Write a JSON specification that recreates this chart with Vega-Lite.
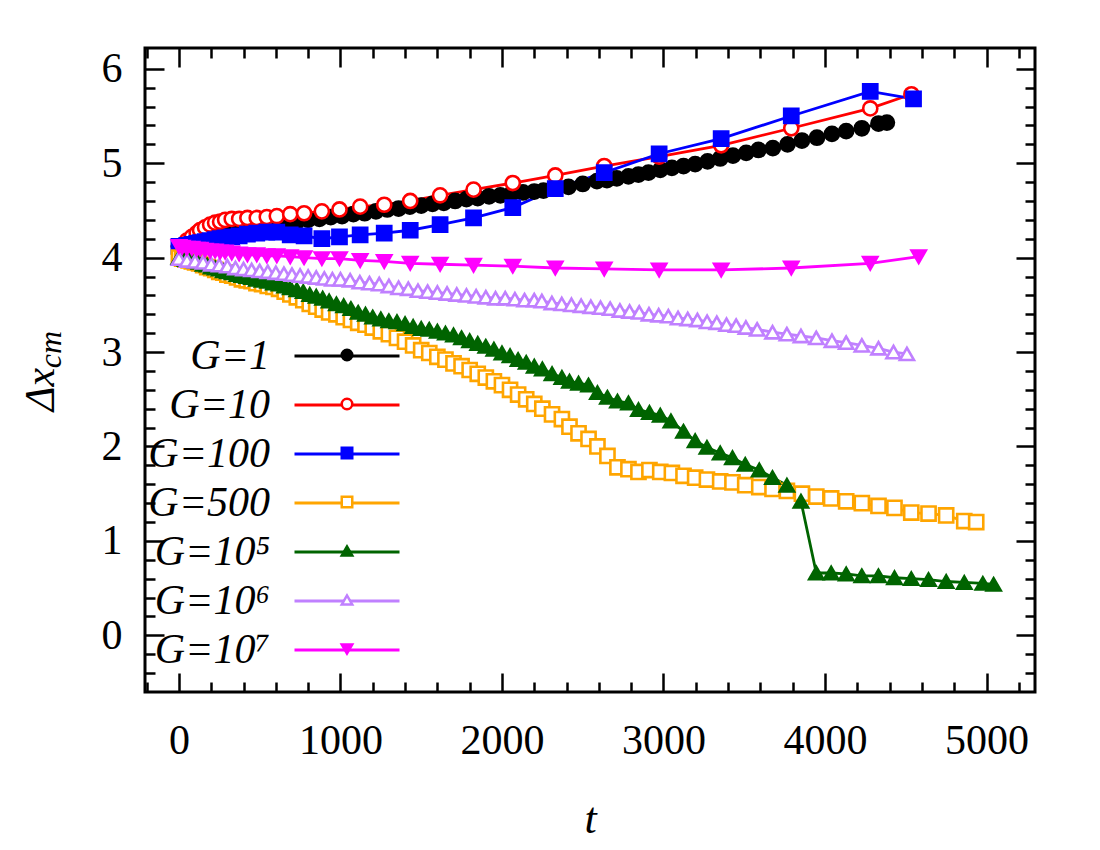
{
  "$schema": "https://vega.github.io/schema/vega-lite/v6.json",
  "width": 890,
  "height": 644,
  "autosize": "none",
  "padding": {"left": 145, "top": 48, "right": 65, "bottom": 158},
  "background": "white",
  "config": {
    "view": {"stroke": "black", "strokeWidth": 3},
    "axis": {
      "grid": false,
      "domain": false,
      "tickColor": "black",
      "tickWidth": 2.5,
      "labelColor": "black",
      "titleColor": "black",
      "labelFont": "Liberation Serif",
      "titleFont": "Liberation Serif",
      "titleFontWeight": "normal",
      "labelOverlap": false,
      "labelFlush": false
    }
  },
  "data": {
    "values": [
      {"G": "G=1", "t": 0, "dx": 4.12}, {"G": "G=1", "t": 40, "dx": 4.12}, {"G": "G=1", "t": 80, "dx": 4.13},
      {"G": "G=1", "t": 120, "dx": 4.14}, {"G": "G=1", "t": 160, "dx": 4.16}, {"G": "G=1", "t": 200, "dx": 4.18},
      {"G": "G=1", "t": 250, "dx": 4.21}, {"G": "G=1", "t": 300, "dx": 4.25}, {"G": "G=1", "t": 350, "dx": 4.28},
      {"G": "G=1", "t": 400, "dx": 4.31}, {"G": "G=1", "t": 460, "dx": 4.33}, {"G": "G=1", "t": 520, "dx": 4.34},
      {"G": "G=1", "t": 590, "dx": 4.35}, {"G": "G=1", "t": 660, "dx": 4.37}, {"G": "G=1", "t": 730, "dx": 4.38},
      {"G": "G=1", "t": 800, "dx": 4.40}, {"G": "G=1", "t": 870, "dx": 4.41}, {"G": "G=1", "t": 940, "dx": 4.43},
      {"G": "G=1", "t": 1010, "dx": 4.44}, {"G": "G=1", "t": 1080, "dx": 4.46}, {"G": "G=1", "t": 1150, "dx": 4.47},
      {"G": "G=1", "t": 1220, "dx": 4.49}, {"G": "G=1", "t": 1290, "dx": 4.51}, {"G": "G=1", "t": 1360, "dx": 4.52},
      {"G": "G=1", "t": 1430, "dx": 4.54}, {"G": "G=1", "t": 1500, "dx": 4.55}, {"G": "G=1", "t": 1570, "dx": 4.57},
      {"G": "G=1", "t": 1640, "dx": 4.58}, {"G": "G=1", "t": 1710, "dx": 4.60}, {"G": "G=1", "t": 1780, "dx": 4.62},
      {"G": "G=1", "t": 1850, "dx": 4.63}, {"G": "G=1", "t": 1920, "dx": 4.65}, {"G": "G=1", "t": 1990, "dx": 4.66},
      {"G": "G=1", "t": 2060, "dx": 4.68}, {"G": "G=1", "t": 2130, "dx": 4.69}, {"G": "G=1", "t": 2200, "dx": 4.70},
      {"G": "G=1", "t": 2257, "dx": 4.71}, {"G": "G=1", "t": 2335, "dx": 4.73}, {"G": "G=1", "t": 2412, "dx": 4.75},
      {"G": "G=1", "t": 2500, "dx": 4.78}, {"G": "G=1", "t": 2588, "dx": 4.81}, {"G": "G=1", "t": 2650, "dx": 4.82},
      {"G": "G=1", "t": 2711, "dx": 4.84}, {"G": "G=1", "t": 2783, "dx": 4.86}, {"G": "G=1", "t": 2845, "dx": 4.88},
      {"G": "G=1", "t": 2907, "dx": 4.90}, {"G": "G=1", "t": 2980, "dx": 4.93}, {"G": "G=1", "t": 3052, "dx": 4.95},
      {"G": "G=1", "t": 3124, "dx": 4.97}, {"G": "G=1", "t": 3196, "dx": 4.99}, {"G": "G=1", "t": 3273, "dx": 5.02},
      {"G": "G=1", "t": 3351, "dx": 5.05}, {"G": "G=1", "t": 3430, "dx": 5.08}, {"G": "G=1", "t": 3512, "dx": 5.11},
      {"G": "G=1", "t": 3588, "dx": 5.14}, {"G": "G=1", "t": 3677, "dx": 5.16}, {"G": "G=1", "t": 3768, "dx": 5.20},
      {"G": "G=1", "t": 3857, "dx": 5.24}, {"G": "G=1", "t": 3950, "dx": 5.27}, {"G": "G=1", "t": 4043, "dx": 5.31},
      {"G": "G=1", "t": 4131, "dx": 5.34}, {"G": "G=1", "t": 4228, "dx": 5.37}, {"G": "G=1", "t": 4331, "dx": 5.42},
      {"G": "G=1", "t": 4383, "dx": 5.43},

      {"G": "G=10", "t": 0, "dx": 4.12}, {"G": "G=10", "t": 20, "dx": 4.13}, {"G": "G=10", "t": 49, "dx": 4.18},
      {"G": "G=10", "t": 80, "dx": 4.22}, {"G": "G=10", "t": 110, "dx": 4.26}, {"G": "G=10", "t": 131, "dx": 4.29},
      {"G": "G=10", "t": 162, "dx": 4.32}, {"G": "G=10", "t": 193, "dx": 4.35}, {"G": "G=10", "t": 224, "dx": 4.37},
      {"G": "G=10", "t": 255, "dx": 4.38}, {"G": "G=10", "t": 286, "dx": 4.40}, {"G": "G=10", "t": 327, "dx": 4.41},
      {"G": "G=10", "t": 373, "dx": 4.41}, {"G": "G=10", "t": 424, "dx": 4.42}, {"G": "G=10", "t": 482, "dx": 4.42},
      {"G": "G=10", "t": 544, "dx": 4.43}, {"G": "G=10", "t": 606, "dx": 4.44}, {"G": "G=10", "t": 689, "dx": 4.46},
      {"G": "G=10", "t": 775, "dx": 4.47}, {"G": "G=10", "t": 885, "dx": 4.49}, {"G": "G=10", "t": 994, "dx": 4.51},
      {"G": "G=10", "t": 1122, "dx": 4.54}, {"G": "G=10", "t": 1271, "dx": 4.56}, {"G": "G=10", "t": 1432, "dx": 4.60},
      {"G": "G=10", "t": 1617, "dx": 4.66}, {"G": "G=10", "t": 1824, "dx": 4.72}, {"G": "G=10", "t": 2067, "dx": 4.79},
      {"G": "G=10", "t": 2330, "dx": 4.87}, {"G": "G=10", "t": 2633, "dx": 4.97}, {"G": "G=10", "t": 2973, "dx": 5.07},
      {"G": "G=10", "t": 3357, "dx": 5.19}, {"G": "G=10", "t": 3791, "dx": 5.37}, {"G": "G=10", "t": 4280, "dx": 5.58},
      {"G": "G=10", "t": 4535, "dx": 5.73},

      {"G": "G=100", "t": 0, "dx": 4.12}, {"G": "G=100", "t": 20, "dx": 4.12}, {"G": "G=100", "t": 49, "dx": 4.13},
      {"G": "G=100", "t": 80, "dx": 4.14}, {"G": "G=100", "t": 110, "dx": 4.15}, {"G": "G=100", "t": 131, "dx": 4.16},
      {"G": "G=100", "t": 162, "dx": 4.17}, {"G": "G=100", "t": 193, "dx": 4.18}, {"G": "G=100", "t": 224, "dx": 4.19},
      {"G": "G=100", "t": 255, "dx": 4.20}, {"G": "G=100", "t": 286, "dx": 4.21}, {"G": "G=100", "t": 327, "dx": 4.22},
      {"G": "G=100", "t": 373, "dx": 4.23}, {"G": "G=100", "t": 424, "dx": 4.25}, {"G": "G=100", "t": 482, "dx": 4.26},
      {"G": "G=100", "t": 544, "dx": 4.27}, {"G": "G=100", "t": 606, "dx": 4.27}, {"G": "G=100", "t": 689, "dx": 4.24},
      {"G": "G=100", "t": 775, "dx": 4.23}, {"G": "G=100", "t": 885, "dx": 4.20}, {"G": "G=100", "t": 994, "dx": 4.22},
      {"G": "G=100", "t": 1122, "dx": 4.24}, {"G": "G=100", "t": 1271, "dx": 4.26}, {"G": "G=100", "t": 1432, "dx": 4.29},
      {"G": "G=100", "t": 1617, "dx": 4.35}, {"G": "G=100", "t": 1824, "dx": 4.42}, {"G": "G=100", "t": 2067, "dx": 4.53},
      {"G": "G=100", "t": 2330, "dx": 4.73}, {"G": "G=100", "t": 2633, "dx": 4.90}, {"G": "G=100", "t": 2973, "dx": 5.10},
      {"G": "G=100", "t": 3357, "dx": 5.26}, {"G": "G=100", "t": 3791, "dx": 5.50}, {"G": "G=100", "t": 4280, "dx": 5.76},
      {"G": "G=100", "t": 4548, "dx": 5.68},

      {"G": "G=500", "t": 0, "dx": 4.00}, {"G": "G=500", "t": 20, "dx": 3.99}, {"G": "G=500", "t": 40, "dx": 3.98},
      {"G": "G=500", "t": 60, "dx": 3.97}, {"G": "G=500", "t": 80, "dx": 3.96}, {"G": "G=500", "t": 100, "dx": 3.95},
      {"G": "G=500", "t": 125, "dx": 3.94}, {"G": "G=500", "t": 150, "dx": 3.92}, {"G": "G=500", "t": 175, "dx": 3.90},
      {"G": "G=500", "t": 200, "dx": 3.89}, {"G": "G=500", "t": 225, "dx": 3.87}, {"G": "G=500", "t": 250, "dx": 3.85},
      {"G": "G=500", "t": 275, "dx": 3.84}, {"G": "G=500", "t": 300, "dx": 3.82}, {"G": "G=500", "t": 330, "dx": 3.81},
      {"G": "G=500", "t": 360, "dx": 3.79}, {"G": "G=500", "t": 390, "dx": 3.77}, {"G": "G=500", "t": 420, "dx": 3.76},
      {"G": "G=500", "t": 450, "dx": 3.75}, {"G": "G=500", "t": 480, "dx": 3.73}, {"G": "G=500", "t": 515, "dx": 3.72},
      {"G": "G=500", "t": 550, "dx": 3.70}, {"G": "G=500", "t": 585, "dx": 3.69}, {"G": "G=500", "t": 620, "dx": 3.67},
      {"G": "G=500", "t": 655, "dx": 3.64}, {"G": "G=500", "t": 690, "dx": 3.61}, {"G": "G=500", "t": 730, "dx": 3.58},
      {"G": "G=500", "t": 770, "dx": 3.55}, {"G": "G=500", "t": 810, "dx": 3.51}, {"G": "G=500", "t": 850, "dx": 3.48},
      {"G": "G=500", "t": 890, "dx": 3.45}, {"G": "G=500", "t": 930, "dx": 3.42}, {"G": "G=500", "t": 975, "dx": 3.40},
      {"G": "G=500", "t": 1020, "dx": 3.37}, {"G": "G=500", "t": 1065, "dx": 3.34}, {"G": "G=500", "t": 1110, "dx": 3.31},
      {"G": "G=500", "t": 1155, "dx": 3.29}, {"G": "G=500", "t": 1200, "dx": 3.26}, {"G": "G=500", "t": 1250, "dx": 3.22},
      {"G": "G=500", "t": 1300, "dx": 3.19}, {"G": "G=500", "t": 1350, "dx": 3.15}, {"G": "G=500", "t": 1400, "dx": 3.11},
      {"G": "G=500", "t": 1450, "dx": 3.07}, {"G": "G=500", "t": 1500, "dx": 3.02}, {"G": "G=500", "t": 1550, "dx": 2.99},
      {"G": "G=500", "t": 1600, "dx": 2.95}, {"G": "G=500", "t": 1650, "dx": 2.92}, {"G": "G=500", "t": 1700, "dx": 2.88},
      {"G": "G=500", "t": 1750, "dx": 2.85}, {"G": "G=500", "t": 1800, "dx": 2.81}, {"G": "G=500", "t": 1850, "dx": 2.77},
      {"G": "G=500", "t": 1900, "dx": 2.73}, {"G": "G=500", "t": 1950, "dx": 2.69}, {"G": "G=500", "t": 2000, "dx": 2.65},
      {"G": "G=500", "t": 2050, "dx": 2.60}, {"G": "G=500", "t": 2100, "dx": 2.55}, {"G": "G=500", "t": 2150, "dx": 2.50},
      {"G": "G=500", "t": 2200, "dx": 2.45}, {"G": "G=500", "t": 2250, "dx": 2.40}, {"G": "G=500", "t": 2310, "dx": 2.34},
      {"G": "G=500", "t": 2371, "dx": 2.29}, {"G": "G=500", "t": 2418, "dx": 2.21}, {"G": "G=500", "t": 2474, "dx": 2.14},
      {"G": "G=500", "t": 2536, "dx": 2.08}, {"G": "G=500", "t": 2591, "dx": 2.00}, {"G": "G=500", "t": 2653, "dx": 1.90},
      {"G": "G=500", "t": 2715, "dx": 1.78}, {"G": "G=500", "t": 2783, "dx": 1.76}, {"G": "G=500", "t": 2845, "dx": 1.73},
      {"G": "G=500", "t": 2913, "dx": 1.75}, {"G": "G=500", "t": 2980, "dx": 1.73}, {"G": "G=500", "t": 3052, "dx": 1.72},
      {"G": "G=500", "t": 3124, "dx": 1.69}, {"G": "G=500", "t": 3196, "dx": 1.67}, {"G": "G=500", "t": 3269, "dx": 1.65},
      {"G": "G=500", "t": 3351, "dx": 1.63}, {"G": "G=500", "t": 3427, "dx": 1.62}, {"G": "G=500", "t": 3506, "dx": 1.59},
      {"G": "G=500", "t": 3593, "dx": 1.57}, {"G": "G=500", "t": 3675, "dx": 1.55}, {"G": "G=500", "t": 3764, "dx": 1.53},
      {"G": "G=500", "t": 3857, "dx": 1.50}, {"G": "G=500", "t": 3946, "dx": 1.47}, {"G": "G=500", "t": 4038, "dx": 1.45},
      {"G": "G=500", "t": 4131, "dx": 1.42}, {"G": "G=500", "t": 4228, "dx": 1.40}, {"G": "G=500", "t": 4331, "dx": 1.37},
      {"G": "G=500", "t": 4430, "dx": 1.35}, {"G": "G=500", "t": 4534, "dx": 1.30}, {"G": "G=500", "t": 4641, "dx": 1.29},
      {"G": "G=500", "t": 4750, "dx": 1.27}, {"G": "G=500", "t": 4862, "dx": 1.21}, {"G": "G=500", "t": 4936, "dx": 1.20},

      {"G": "G=10⁵", "t": 0, "dx": 4.00}, {"G": "G=10⁵", "t": 20, "dx": 3.99}, {"G": "G=10⁵", "t": 40, "dx": 3.98},
      {"G": "G=10⁵", "t": 60, "dx": 3.98}, {"G": "G=10⁵", "t": 80, "dx": 3.97}, {"G": "G=10⁵", "t": 100, "dx": 3.96},
      {"G": "G=10⁵", "t": 125, "dx": 3.95}, {"G": "G=10⁵", "t": 150, "dx": 3.93}, {"G": "G=10⁵", "t": 175, "dx": 3.92},
      {"G": "G=10⁵", "t": 200, "dx": 3.90}, {"G": "G=10⁵", "t": 225, "dx": 3.89}, {"G": "G=10⁵", "t": 250, "dx": 3.88},
      {"G": "G=10⁵", "t": 275, "dx": 3.86}, {"G": "G=10⁵", "t": 300, "dx": 3.85}, {"G": "G=10⁵", "t": 330, "dx": 3.84},
      {"G": "G=10⁵", "t": 360, "dx": 3.82}, {"G": "G=10⁵", "t": 390, "dx": 3.81}, {"G": "G=10⁵", "t": 420, "dx": 3.80},
      {"G": "G=10⁵", "t": 450, "dx": 3.79}, {"G": "G=10⁵", "t": 480, "dx": 3.77}, {"G": "G=10⁵", "t": 515, "dx": 3.76},
      {"G": "G=10⁵", "t": 550, "dx": 3.75}, {"G": "G=10⁵", "t": 585, "dx": 3.73}, {"G": "G=10⁵", "t": 620, "dx": 3.72},
      {"G": "G=10⁵", "t": 655, "dx": 3.70}, {"G": "G=10⁵", "t": 690, "dx": 3.68}, {"G": "G=10⁵", "t": 730, "dx": 3.66},
      {"G": "G=10⁵", "t": 770, "dx": 3.64}, {"G": "G=10⁵", "t": 810, "dx": 3.61}, {"G": "G=10⁵", "t": 850, "dx": 3.59},
      {"G": "G=10⁵", "t": 890, "dx": 3.57}, {"G": "G=10⁵", "t": 930, "dx": 3.54}, {"G": "G=10⁵", "t": 975, "dx": 3.51},
      {"G": "G=10⁵", "t": 1020, "dx": 3.49}, {"G": "G=10⁵", "t": 1065, "dx": 3.46}, {"G": "G=10⁵", "t": 1110, "dx": 3.42},
      {"G": "G=10⁵", "t": 1155, "dx": 3.40}, {"G": "G=10⁵", "t": 1200, "dx": 3.37}, {"G": "G=10⁵", "t": 1250, "dx": 3.35},
      {"G": "G=10⁵", "t": 1300, "dx": 3.33}, {"G": "G=10⁵", "t": 1350, "dx": 3.32}, {"G": "G=10⁵", "t": 1400, "dx": 3.30},
      {"G": "G=10⁵", "t": 1450, "dx": 3.27}, {"G": "G=10⁵", "t": 1500, "dx": 3.25}, {"G": "G=10⁵", "t": 1550, "dx": 3.24},
      {"G": "G=10⁵", "t": 1600, "dx": 3.22}, {"G": "G=10⁵", "t": 1650, "dx": 3.20}, {"G": "G=10⁵", "t": 1700, "dx": 3.18},
      {"G": "G=10⁵", "t": 1750, "dx": 3.15}, {"G": "G=10⁵", "t": 1800, "dx": 3.12}, {"G": "G=10⁵", "t": 1850, "dx": 3.09},
      {"G": "G=10⁵", "t": 1900, "dx": 3.06}, {"G": "G=10⁵", "t": 1950, "dx": 3.03}, {"G": "G=10⁵", "t": 2000, "dx": 2.99},
      {"G": "G=10⁵", "t": 2050, "dx": 2.96}, {"G": "G=10⁵", "t": 2100, "dx": 2.92}, {"G": "G=10⁵", "t": 2150, "dx": 2.89},
      {"G": "G=10⁵", "t": 2200, "dx": 2.85}, {"G": "G=10⁵", "t": 2250, "dx": 2.82}, {"G": "G=10⁵", "t": 2310, "dx": 2.77},
      {"G": "G=10⁵", "t": 2371, "dx": 2.73}, {"G": "G=10⁵", "t": 2418, "dx": 2.69}, {"G": "G=10⁵", "t": 2474, "dx": 2.67},
      {"G": "G=10⁵", "t": 2536, "dx": 2.65}, {"G": "G=10⁵", "t": 2591, "dx": 2.57}, {"G": "G=10⁵", "t": 2653, "dx": 2.52},
      {"G": "G=10⁵", "t": 2715, "dx": 2.48}, {"G": "G=10⁵", "t": 2783, "dx": 2.46}, {"G": "G=10⁵", "t": 2845, "dx": 2.39},
      {"G": "G=10⁵", "t": 2913, "dx": 2.36}, {"G": "G=10⁵", "t": 2980, "dx": 2.33}, {"G": "G=10⁵", "t": 3046, "dx": 2.27},
      {"G": "G=10⁵", "t": 3124, "dx": 2.16}, {"G": "G=10⁵", "t": 3196, "dx": 2.06}, {"G": "G=10⁵", "t": 3269, "dx": 1.99},
      {"G": "G=10⁵", "t": 3351, "dx": 1.93}, {"G": "G=10⁵", "t": 3427, "dx": 1.88}, {"G": "G=10⁵", "t": 3506, "dx": 1.81},
      {"G": "G=10⁵", "t": 3593, "dx": 1.75}, {"G": "G=10⁵", "t": 3675, "dx": 1.67}, {"G": "G=10⁵", "t": 3764, "dx": 1.59},
      {"G": "G=10⁵", "t": 3851, "dx": 1.42}, {"G": "G=10⁵", "t": 3946, "dx": 0.66}, {"G": "G=10⁵", "t": 4038, "dx": 0.66},
      {"G": "G=10⁵", "t": 4131, "dx": 0.65}, {"G": "G=10⁵", "t": 4228, "dx": 0.63}, {"G": "G=10⁵", "t": 4331, "dx": 0.63},
      {"G": "G=10⁵", "t": 4430, "dx": 0.61}, {"G": "G=10⁵", "t": 4534, "dx": 0.60}, {"G": "G=10⁵", "t": 4641, "dx": 0.59},
      {"G": "G=10⁵", "t": 4750, "dx": 0.57}, {"G": "G=10⁵", "t": 4862, "dx": 0.56}, {"G": "G=10⁵", "t": 4977, "dx": 0.55},
      {"G": "G=10⁵", "t": 5044, "dx": 0.54},

      {"G": "G=10⁶", "t": 0, "dx": 3.99}, {"G": "G=10⁶", "t": 50, "dx": 3.97}, {"G": "G=10⁶", "t": 100, "dx": 3.96},
      {"G": "G=10⁶", "t": 150, "dx": 3.95}, {"G": "G=10⁶", "t": 200, "dx": 3.93}, {"G": "G=10⁶", "t": 250, "dx": 3.92},
      {"G": "G=10⁶", "t": 300, "dx": 3.91}, {"G": "G=10⁶", "t": 350, "dx": 3.89}, {"G": "G=10⁶", "t": 400, "dx": 3.88},
      {"G": "G=10⁶", "t": 450, "dx": 3.87}, {"G": "G=10⁶", "t": 500, "dx": 3.86}, {"G": "G=10⁶", "t": 550, "dx": 3.85},
      {"G": "G=10⁶", "t": 600, "dx": 3.84}, {"G": "G=10⁶", "t": 650, "dx": 3.83}, {"G": "G=10⁶", "t": 700, "dx": 3.82},
      {"G": "G=10⁶", "t": 750, "dx": 3.81}, {"G": "G=10⁶", "t": 800, "dx": 3.80}, {"G": "G=10⁶", "t": 850, "dx": 3.79},
      {"G": "G=10⁶", "t": 900, "dx": 3.78}, {"G": "G=10⁶", "t": 950, "dx": 3.77}, {"G": "G=10⁶", "t": 1000, "dx": 3.77},
      {"G": "G=10⁶", "t": 1060, "dx": 3.76}, {"G": "G=10⁶", "t": 1120, "dx": 3.74}, {"G": "G=10⁶", "t": 1180, "dx": 3.73},
      {"G": "G=10⁶", "t": 1240, "dx": 3.72}, {"G": "G=10⁶", "t": 1300, "dx": 3.70}, {"G": "G=10⁶", "t": 1360, "dx": 3.68},
      {"G": "G=10⁶", "t": 1420, "dx": 3.67}, {"G": "G=10⁶", "t": 1480, "dx": 3.65}, {"G": "G=10⁶", "t": 1540, "dx": 3.64},
      {"G": "G=10⁶", "t": 1600, "dx": 3.63}, {"G": "G=10⁶", "t": 1660, "dx": 3.62}, {"G": "G=10⁶", "t": 1720, "dx": 3.61},
      {"G": "G=10⁶", "t": 1780, "dx": 3.60}, {"G": "G=10⁶", "t": 1840, "dx": 3.59}, {"G": "G=10⁶", "t": 1900, "dx": 3.58},
      {"G": "G=10⁶", "t": 1960, "dx": 3.57}, {"G": "G=10⁶", "t": 2020, "dx": 3.57}, {"G": "G=10⁶", "t": 2080, "dx": 3.56},
      {"G": "G=10⁶", "t": 2140, "dx": 3.55}, {"G": "G=10⁶", "t": 2200, "dx": 3.55}, {"G": "G=10⁶", "t": 2247, "dx": 3.54},
      {"G": "G=10⁶", "t": 2309, "dx": 3.52}, {"G": "G=10⁶", "t": 2370, "dx": 3.51}, {"G": "G=10⁶", "t": 2430, "dx": 3.50},
      {"G": "G=10⁶", "t": 2490, "dx": 3.49}, {"G": "G=10⁶", "t": 2550, "dx": 3.48}, {"G": "G=10⁶", "t": 2610, "dx": 3.47},
      {"G": "G=10⁶", "t": 2670, "dx": 3.46}, {"G": "G=10⁶", "t": 2730, "dx": 3.44}, {"G": "G=10⁶", "t": 2790, "dx": 3.43},
      {"G": "G=10⁶", "t": 2850, "dx": 3.42}, {"G": "G=10⁶", "t": 2910, "dx": 3.40}, {"G": "G=10⁶", "t": 2970, "dx": 3.39},
      {"G": "G=10⁶", "t": 3030, "dx": 3.38}, {"G": "G=10⁶", "t": 3090, "dx": 3.36}, {"G": "G=10⁶", "t": 3150, "dx": 3.35},
      {"G": "G=10⁶", "t": 3210, "dx": 3.34}, {"G": "G=10⁶", "t": 3270, "dx": 3.32}, {"G": "G=10⁶", "t": 3330, "dx": 3.31},
      {"G": "G=10⁶", "t": 3390, "dx": 3.29}, {"G": "G=10⁶", "t": 3450, "dx": 3.28}, {"G": "G=10⁶", "t": 3510, "dx": 3.26},
      {"G": "G=10⁶", "t": 3580, "dx": 3.24}, {"G": "G=10⁶", "t": 3675, "dx": 3.21}, {"G": "G=10⁶", "t": 3764, "dx": 3.19},
      {"G": "G=10⁶", "t": 3851, "dx": 3.17}, {"G": "G=10⁶", "t": 3946, "dx": 3.15}, {"G": "G=10⁶", "t": 4043, "dx": 3.12},
      {"G": "G=10⁶", "t": 4131, "dx": 3.10}, {"G": "G=10⁶", "t": 4228, "dx": 3.07}, {"G": "G=10⁶", "t": 4331, "dx": 3.04},
      {"G": "G=10⁶", "t": 4424, "dx": 3.00}, {"G": "G=10⁶", "t": 4507, "dx": 2.98},

      {"G": "G=10⁷", "t": 0, "dx": 4.12}, {"G": "G=10⁷", "t": 20, "dx": 4.11}, {"G": "G=10⁷", "t": 49, "dx": 4.10},
      {"G": "G=10⁷", "t": 80, "dx": 4.10}, {"G": "G=10⁷", "t": 110, "dx": 4.09}, {"G": "G=10⁷", "t": 131, "dx": 4.09},
      {"G": "G=10⁷", "t": 162, "dx": 4.08}, {"G": "G=10⁷", "t": 193, "dx": 4.07}, {"G": "G=10⁷", "t": 224, "dx": 4.07},
      {"G": "G=10⁷", "t": 255, "dx": 4.06}, {"G": "G=10⁷", "t": 286, "dx": 4.06}, {"G": "G=10⁷", "t": 327, "dx": 4.05},
      {"G": "G=10⁷", "t": 373, "dx": 4.04}, {"G": "G=10⁷", "t": 424, "dx": 4.03}, {"G": "G=10⁷", "t": 482, "dx": 4.03},
      {"G": "G=10⁷", "t": 544, "dx": 4.02}, {"G": "G=10⁷", "t": 606, "dx": 4.02}, {"G": "G=10⁷", "t": 689, "dx": 4.01},
      {"G": "G=10⁷", "t": 775, "dx": 4.00}, {"G": "G=10⁷", "t": 885, "dx": 3.99}, {"G": "G=10⁷", "t": 994, "dx": 3.99},
      {"G": "G=10⁷", "t": 1122, "dx": 3.97}, {"G": "G=10⁷", "t": 1271, "dx": 3.96}, {"G": "G=10⁷", "t": 1432, "dx": 3.94},
      {"G": "G=10⁷", "t": 1617, "dx": 3.93}, {"G": "G=10⁷", "t": 1824, "dx": 3.92}, {"G": "G=10⁷", "t": 2067, "dx": 3.91},
      {"G": "G=10⁷", "t": 2330, "dx": 3.89}, {"G": "G=10⁷", "t": 2633, "dx": 3.88}, {"G": "G=10⁷", "t": 2973, "dx": 3.87},
      {"G": "G=10⁷", "t": 3357, "dx": 3.87}, {"G": "G=10⁷", "t": 3791, "dx": 3.89}, {"G": "G=10⁷", "t": 4280, "dx": 3.94},
      {"G": "G=10⁷", "t": 4580, "dx": 4.01}
    ]
  },
  "layer": [
    {
      "mark": {"type": "line", "strokeWidth": 2.8},
      "encoding": {
        "x": {
          "field": "t", "type": "quantitative",
          "scale": {"domain": [-210, 5300], "nice": false, "zero": false},
          "axis": {
            "orient": "bottom", "values": [0, 1000, 2000, 3000, 4000, 5000], "format": "d",
            "tickSize": -19, "labelFontSize": 42, "labelPadding": 47,
            "title": "t", "titleFontSize": 44, "titleFontStyle": "italic",
            "titleY": 140, "titleBaseline": "alphabetic"
          }
        },
        "y": {
          "field": "dx", "type": "quantitative",
          "scale": {"domain": [-0.6, 6.22], "nice": false, "zero": false},
          "axis": {
            "orient": "left", "values": [0, 1, 2, 3, 4, 5, 6],
            "tickSize": -19, "labelFontSize": 42, "labelPadding": 42,
            "title": "Δx", "titleFontSize": 42, "titleFontStyle": "italic",
            "titleAngle": 270, "titleAlign": "center", "titleBaseline": "alphabetic",
            "titleX": -92, "titleY": 341
          }
        },
        "stroke": {
          "field": "G", "type": "nominal",
          "scale": {
            "domain": ["G=1", "G=10", "G=100", "G=500", "G=10⁵", "G=10⁶", "G=10⁷"],
            "range": ["#000000", "#ff0000", "#0000ff", "#ffa500", "#006400", "#c080ff", "#ff00ff"]
          },
          "legend": {
            "orient": "none", "legendX": 181, "legendY": 287, "title": null,
            "symbolType": "M-5,0H5", "symbolSize": 441, "symbolStrokeWidth": 2.8,
            "labelFont": "Liberation Serif", "labelFontSize": 42, "labelFontStyle": "italic",
            "labelColor": "black", "labelAlign": "right", "labelOffset": -98,
            "labelLimit": 0, "rowPadding": 7
          }
        }
      }
    },
    {
      "mark": {"type": "point", "opacity": 1, "size": 200, "strokeWidth": 2.6},
      "encoding": {
        "x": {
          "field": "t", "type": "quantitative",
          "axis": {
            "orient": "bottom",
            "values": [-200, 200, 400, 600, 800, 1200, 1400, 1600, 1800, 2200, 2400, 2600, 2800, 3200, 3400, 3600, 3800, 4200, 4400, 4600, 4800, 5200],
            "tickSize": -10, "labels": false, "title": null
          }
        },
        "y": {
          "field": "dx", "type": "quantitative",
          "axis": {
            "orient": "left",
            "values": [-0.4, -0.2, 0.2, 0.4, 0.6, 0.8, 1.2, 1.4, 1.6, 1.8, 2.2, 2.4, 2.6, 2.8, 3.2, 3.4, 3.6, 3.8, 4.2, 4.4, 4.6, 4.8, 5.2, 5.4, 5.6, 5.8],
            "tickSize": -10, "labels": false,
            "title": "cm", "titleFontSize": 32, "titleFontStyle": "italic",
            "titleAngle": 270, "titleAlign": "center", "titleBaseline": "alphabetic",
            "titleX": -85, "titleY": 301
          }
        },
        "stroke": {
          "field": "G", "type": "nominal",
          "legend": {
            "orient": "none", "legendX": 182, "legendY": 287, "title": null,
            "symbolSize": 110, "symbolStrokeWidth": 2.5,
            "labelFont": "Liberation Serif", "labelFontSize": 40, "labelOpacity": 0, "rowPadding": 9
          }
        },
        "fill": {
          "field": "G", "type": "nominal",
          "scale": {
            "domain": ["G=1", "G=10", "G=100", "G=500", "G=10⁵", "G=10⁶", "G=10⁷"],
            "range": ["#000000", "#ffffff", "#0000ff", "#ffffff", "#006400", "#ffffff", "#ff00ff"]
          },
          "legend": {
            "orient": "none", "legendX": 182, "legendY": 287, "title": null,
            "symbolSize": 110, "symbolStrokeWidth": 2.5,
            "labelFont": "Liberation Serif", "labelFontSize": 40, "labelOpacity": 0, "rowPadding": 9
          }
        },
        "shape": {
          "field": "G", "type": "nominal",
          "scale": {
            "domain": ["G=1", "G=10", "G=100", "G=500", "G=10⁵", "G=10⁶", "G=10⁷"],
            "range": ["circle", "circle", "square", "square", "triangle-up", "triangle-up", "triangle-down"]
          },
          "legend": {
            "orient": "none", "legendX": 182, "legendY": 287, "title": null,
            "symbolSize": 110, "symbolStrokeWidth": 2.5,
            "labelFont": "Liberation Serif", "labelFontSize": 40, "labelOpacity": 0, "rowPadding": 9
          }
        }
      }
    },
    {
      "mark": {"type": "point", "opacity": 0},
      "encoding": {
        "x": {
          "field": "t", "type": "quantitative",
          "axis": {"orient": "top", "values": [0, 1000, 2000, 3000, 4000, 5000], "tickSize": -19, "labels": false, "title": null}
        },
        "y": {
          "field": "dx", "type": "quantitative",
          "axis": {"orient": "right", "values": [0, 1, 2, 3, 4, 5, 6], "tickSize": -19, "labels": false, "title": null}
        }
      }
    },
    {
      "mark": {"type": "point", "opacity": 0},
      "encoding": {
        "x": {
          "field": "t", "type": "quantitative",
          "axis": {
            "orient": "top",
            "values": [-200, 200, 400, 600, 800, 1200, 1400, 1600, 1800, 2200, 2400, 2600, 2800, 3200, 3400, 3600, 3800, 4200, 4400, 4600, 4800, 5200],
            "tickSize": -10, "labels": false, "title": null
          }
        },
        "y": {
          "field": "dx", "type": "quantitative",
          "axis": {
            "orient": "right",
            "values": [-0.4, -0.2, 0.2, 0.4, 0.6, 0.8, 1.2, 1.4, 1.6, 1.8, 2.2, 2.4, 2.6, 2.8, 3.2, 3.4, 3.6, 3.8, 4.2, 4.4, 4.6, 4.8, 5.2, 5.4, 5.6, 5.8],
            "tickSize": -10, "labels": false, "title": null
          }
        }
      }
    }
  ],
  "resolve": {
    "axis": {"x": "independent", "y": "independent"},
    "legend": {"stroke": "independent", "fill": "independent", "shape": "independent"}
  }
}
